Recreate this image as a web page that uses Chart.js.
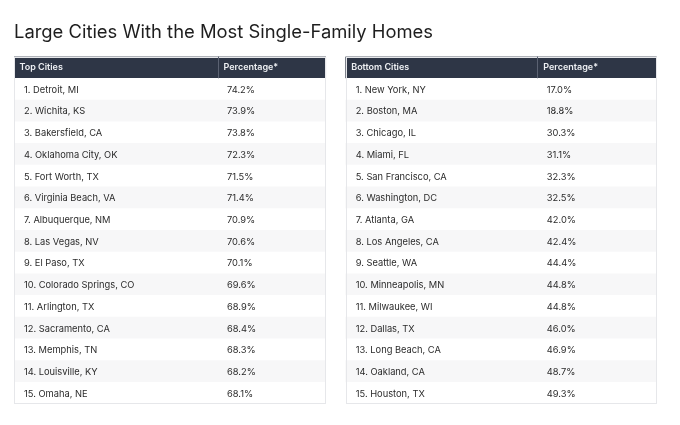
<!DOCTYPE html>
<html>
<head>
<meta charset="utf-8">
<script src="https://cdn.jsdelivr.net/npm/chart.js@4/dist/chart.umd.min.js"></script>
<style>
  html, body { margin: 0; padding: 0; background: #fff; }
  #wrap { width: 680px; height: 425px; }
</style>
</head>
<body>
<div id="wrap"><canvas id="tableChart"></canvas></div>
<script>
const title = 'Large Cities With the Most Single-Family Homes';
const headers = ['Top Cities', 'Percentage*', 'Bottom Cities', 'Percentage*'];

const topCities = ['Detroit, MI', 'Wichita, KS', 'Bakersfield, CA', 'Oklahoma City, OK', 'Fort Worth, TX',
    'Virginia Beach, VA', 'Albuquerque, NM', 'Las Vegas, NV', 'El Paso, TX', 'Colorado Springs, CO',
    'Arlington, TX', 'Sacramento, CA', 'Memphis, TN', 'Louisville, KY', 'Omaha, NE'];
const topPct = [74.2, 73.9, 73.8, 72.3, 71.5, 71.4, 70.9, 70.6, 70.1, 69.6, 68.9, 68.4, 68.3, 68.2, 68.1];

const bottomCities = ['New York, NY', 'Boston, MA', 'Chicago, IL', 'Miami, FL', 'San Francisco, CA',
    'Washington, DC', 'Atlanta, GA', 'Los Angeles, CA', 'Seattle, WA', 'Minneapolis, MN',
    'Milwaukee, WI', 'Dallas, TX', 'Long Beach, CA', 'Oakland, CA', 'Houston, TX'];
const bottomPct = [17.0, 18.8, 30.3, 31.1, 32.3, 32.5, 42.0, 42.4, 44.4, 44.8, 44.8, 46.0, 46.9, 48.7, 49.3];

// column widths of the two tables (x axis units), with the gap between them
const colWidths = [203.5, 108.2, 20, 191.6, 119.4];
const colStart = colWidths.reduce((acc, w, i) => { acc.push(acc[i] + w); return acc; }, [0]);
const total = colStart[colStart.length - 1];

const HEADER_BG = '#2e3646';
const STRIPE_BG = '#f7f7f8';
const ROW_BG = '#ffffff';
const BORDER = '#e6e7ea';

const rowLabels = ['header', ...topCities.map((c, i) => String(i + 1))];
const rowColors = rowLabels.map((r, i) => i === 0 ? HEADER_BG : (i % 2 === 0 ? STRIPE_BG : ROW_BG));

const tables = [
    {start: 0, end: 2, cities: topCities, values: topPct, head: [headers[0], headers[1]]},
    {start: 3, end: 5, cities: bottomCities, values: bottomPct, head: [headers[2], headers[3]]}
];

const tableText = {
    id: 'tableText',
    afterDatasetsDraw(chart) {
        const {ctx, scales: {x, y}} = chart;
        const half = y.height / rowLabels.length / 2;
        const top = y.getPixelForValue(0) - half;
        const bottom = y.getPixelForValue(rowLabels.length - 1) + half;
        ctx.save();
        tables.forEach(t => {
            const x0 = x.getPixelForValue(colStart[t.start]);
            const xm = x.getPixelForValue(colStart[t.start + 1]);
            const x1 = x.getPixelForValue(colStart[t.end]);
            // outer border
            ctx.strokeStyle = BORDER;
            ctx.lineWidth = 1;
            ctx.strokeRect(Math.round(x0) + 0.5, Math.round(top) + 0.5, Math.round(x1 - x0) - 1, Math.round(bottom - top) - 1);
            // header divider
            ctx.strokeStyle = '#5b6272';
            ctx.beginPath();
            ctx.moveTo(Math.round(xm) + 0.5, top);
            ctx.lineTo(Math.round(xm) + 0.5, y.getPixelForValue(0) + half);
            ctx.stroke();

            ctx.textBaseline = 'middle';
            ctx.font = '600 9px Inter';
            ctx.fillStyle = '#eef0f3';
            const hy = y.getPixelForValue(0);
            ctx.fillText(t.head[0], x0 + 5.5, hy);
            ctx.fillText(t.head[1], xm + 6, hy);

            ctx.font = '400 9.3px Inter';
            ctx.fillStyle = '#2b2b2b';
            t.cities.forEach((c, i) => {
                const ry = y.getPixelForValue(i + 1) + 0.7;
                ctx.fillText(`${i + 1}. ${c}`, x0 + 10, ry);
                ctx.fillText(`${t.values[i].toFixed(1)}%`, xm + 9.5, ry);
            });
        });
        ctx.restore();
    }
};

new Chart(document.getElementById('tableChart'), {
    type: 'bar',
    data: {
        labels: rowLabels,
        datasets: tables.map(t => ({
            label: t.head[0],
            data: rowLabels.map(() => [colStart[t.start], colStart[t.end]]),
            backgroundColor: rowColors,
            borderWidth: 0,
            grouped: false,
            barPercentage: 1,
            categoryPercentage: 1
        }))
    },
    options: {
        indexAxis: 'y',
        responsive: true,
        maintainAspectRatio: false,
        animation: false,
        layout: {padding: {left: 14, right: 680 - 14 - total, bottom: 21}},
        scales: {
            x: {type: 'linear', min: 0, max: total, display: false},
            y: {type: 'category', offset: true, display: false}
        },
        plugins: {
            legend: {display: false},
            tooltip: {enabled: false},
            title: {
                display: true,
                text: title,
                align: 'start',
                color: '#1e1e1e',
                font: {family: 'Inter', size: 18.4, weight: '400', lineHeight: 1.2},
                padding: {top: 21.5, bottom: 13}
            }
        }
    },
    plugins: [tableText]
});
</script>
</body>
</html>
